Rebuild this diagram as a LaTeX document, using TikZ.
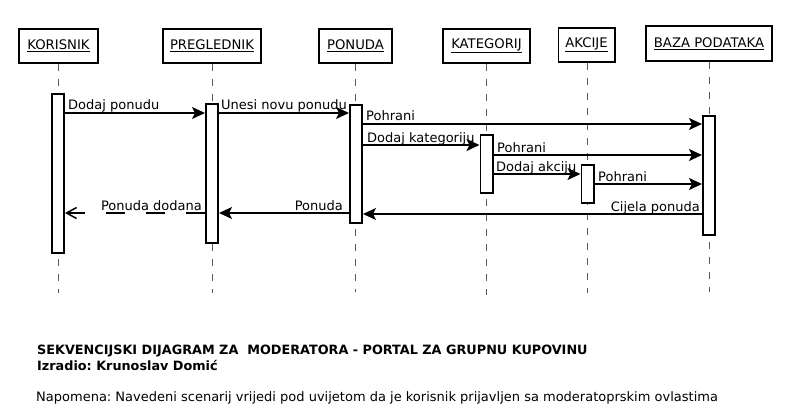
\documentclass[tikz,border=0pt]{standalone}
\usepackage{fontspec}
\setmainfont{DejaVu Sans}
\frenchspacing
\usetikzlibrary{arrows.meta,calc}
\begin{document}
\begin{tikzpicture}[x=1pt,y=-1pt,
  head/.style={draw, line width=1.7pt, inner sep=0pt, font=\fontsize{13.2}{15}\selectfont},
  life/.style={draw=black!65, line width=0.9pt, dash pattern=on 7pt off 8pt},
  act/.style={draw, fill=white, line width=1.7pt, minimum width=12.3pt, inner sep=0pt},
  msg/.style={line width=1.7pt, -{Stealth[length=13pt,width=12pt,inset=3pt]}},
  ret/.style={line width=1.5pt, dash pattern=on 19pt off 21pt, -{Straight Barb[length=10pt,width=11pt]}},
  lbl/.style={font=\fontsize{13}{15}\selectfont, inner sep=0pt},
  note/.style={font=\fontsize{13}{15}\selectfont, inner sep=0pt, anchor=base west},
]
\path[use as bounding box] (0,0) rectangle (790,412);

% participants
\node[head, minimum width=79.3pt,  minimum height=34.3pt] (hK) at (58.5,46)   {\underline{KORISNIK}};
\node[head, minimum width=98.3pt,  minimum height=34.3pt] (hP) at (212,46)    {\underline{PREGLEDNIK}};
\node[head, minimum width=73.3pt,  minimum height=34.3pt] (hO) at (355.5,46)  {\underline{PONUDA}};
\node[head, minimum width=87.3pt,  minimum height=34.3pt] (hC) at (486.5,46)  {\underline{KATEGORIJ}};
\node[head, minimum width=56.3pt,  minimum height=34.3pt] (hA) at (586.5,45)  {\underline{AKCIJE}};
\node[head, minimum width=126.3pt, minimum height=35.3pt] (hB) at (709,43.5)  {\underline{BAZA PODATAKA}};

% lifelines
\coordinate (eK) at (58.5,293);
\coordinate (eP) at (212,293);
\coordinate (eO) at (355.5,292);
\coordinate (eC) at (486.5,295);
\coordinate (eA) at (587.5,293);
\coordinate (eB) at (709,292);
\draw[life] (hK.south) -- (eK);
\draw[life] (hP.south) -- (eP);
\draw[life] (hO.south) -- (eO);
\draw[life] (hC.south) -- (eC);
\draw[life] ($(hA.south)+(1,0)$) -- (eA);
\draw[life] (hB.south) -- (eB);

% activation bars
\node[act, minimum height=159.3pt] (kA) at (58,173.5)  {};
\node[act, minimum height=139.3pt] (pA) at (212,173.5) {};
\node[act, minimum height=118.3pt] (oA) at (356,164)   {};
\node[act, minimum height=58.3pt]  (cA) at (486.5,164) {};
\node[act, minimum height=38.3pt]  (aA) at (587.5,184) {};
\node[act, minimum height=119.3pt] (bA) at (709,175.5) {};

% message levels
\coordinate (y1) at (0,113);
\coordinate (y3) at (0,124);
\coordinate (y4) at (0,145);
\coordinate (y5) at (0,155);
\coordinate (y6) at (0,174);
\coordinate (y7) at (0,184);
\coordinate (y8) at (0,214);
\coordinate (y9) at (0,213);

% calls
\draw[msg] (kA.east |- y1) -- (pA.west |- y1);
\node[lbl, anchor=base west] (l1) at (68,110) {Dodaj ponudu};
\draw[msg] (pA.east |- y1) -- (oA.west |- y1);
\node[lbl, anchor=base west] (l2) at (221,110) {Unesi novu ponudu};
\draw[msg] (oA.east |- y3) -- (bA.west |- y3);
\node[lbl, anchor=base west] (l3) at (366,121) {Pohrani};
\draw[msg] (oA.east |- y4) -- (cA.west |- y4);
\node[lbl, anchor=base west] (l4) at (367,142) {Dodaj kategoriju};
\draw[msg] (cA.east |- y5) -- (bA.west |- y5);
\node[lbl, anchor=base west] (l5) at (497,152) {Pohrani};
\draw[msg] (cA.east |- y6) -- (aA.west |- y6);
\node[lbl, anchor=base west] (l6) at (496,171) {Dodaj akciju};
\draw[msg] (aA.east |- y7) -- (bA.west |- y7);
\node[lbl, anchor=base west] (l7) at (598,181) {Pohrani};

% replies
\draw[msg] (bA.west |- y8) -- (oA.east |- y8);
\node[lbl, anchor=base east] (l8) at (700,211) {Cijela ponuda};
\draw[msg] (oA.west |- y9) -- (pA.east |- y9);
\node[lbl, anchor=base east] (l9) at (343,210) {Ponuda};
\draw[ret] (pA.west |- y9) -- (kA.east |- y9);
\node[lbl, anchor=base east] (l10) at (202,210) {Ponuda dodana};

% caption
\node[note, font=\fontsize{12.8}{15}\selectfont\bfseries] (t1) at (37,354)
  {SEKVENCIJSKI DIJAGRAM ZA \ MODERATORA - PORTAL ZA GRUPNU KUPOVINU};
\node[note, font=\fontsize{12.8}{15}\selectfont\bfseries] (t2) at (37,370)
  {Izradio: Krunoslav Domić};
\node[note] (t3) at (36,401)
  {Napomena: Navedeni scenarij vrijedi pod uvijetom da je korisnik prijavljen sa moderatoprskim ovlastima};
\end{tikzpicture}
\end{document}
